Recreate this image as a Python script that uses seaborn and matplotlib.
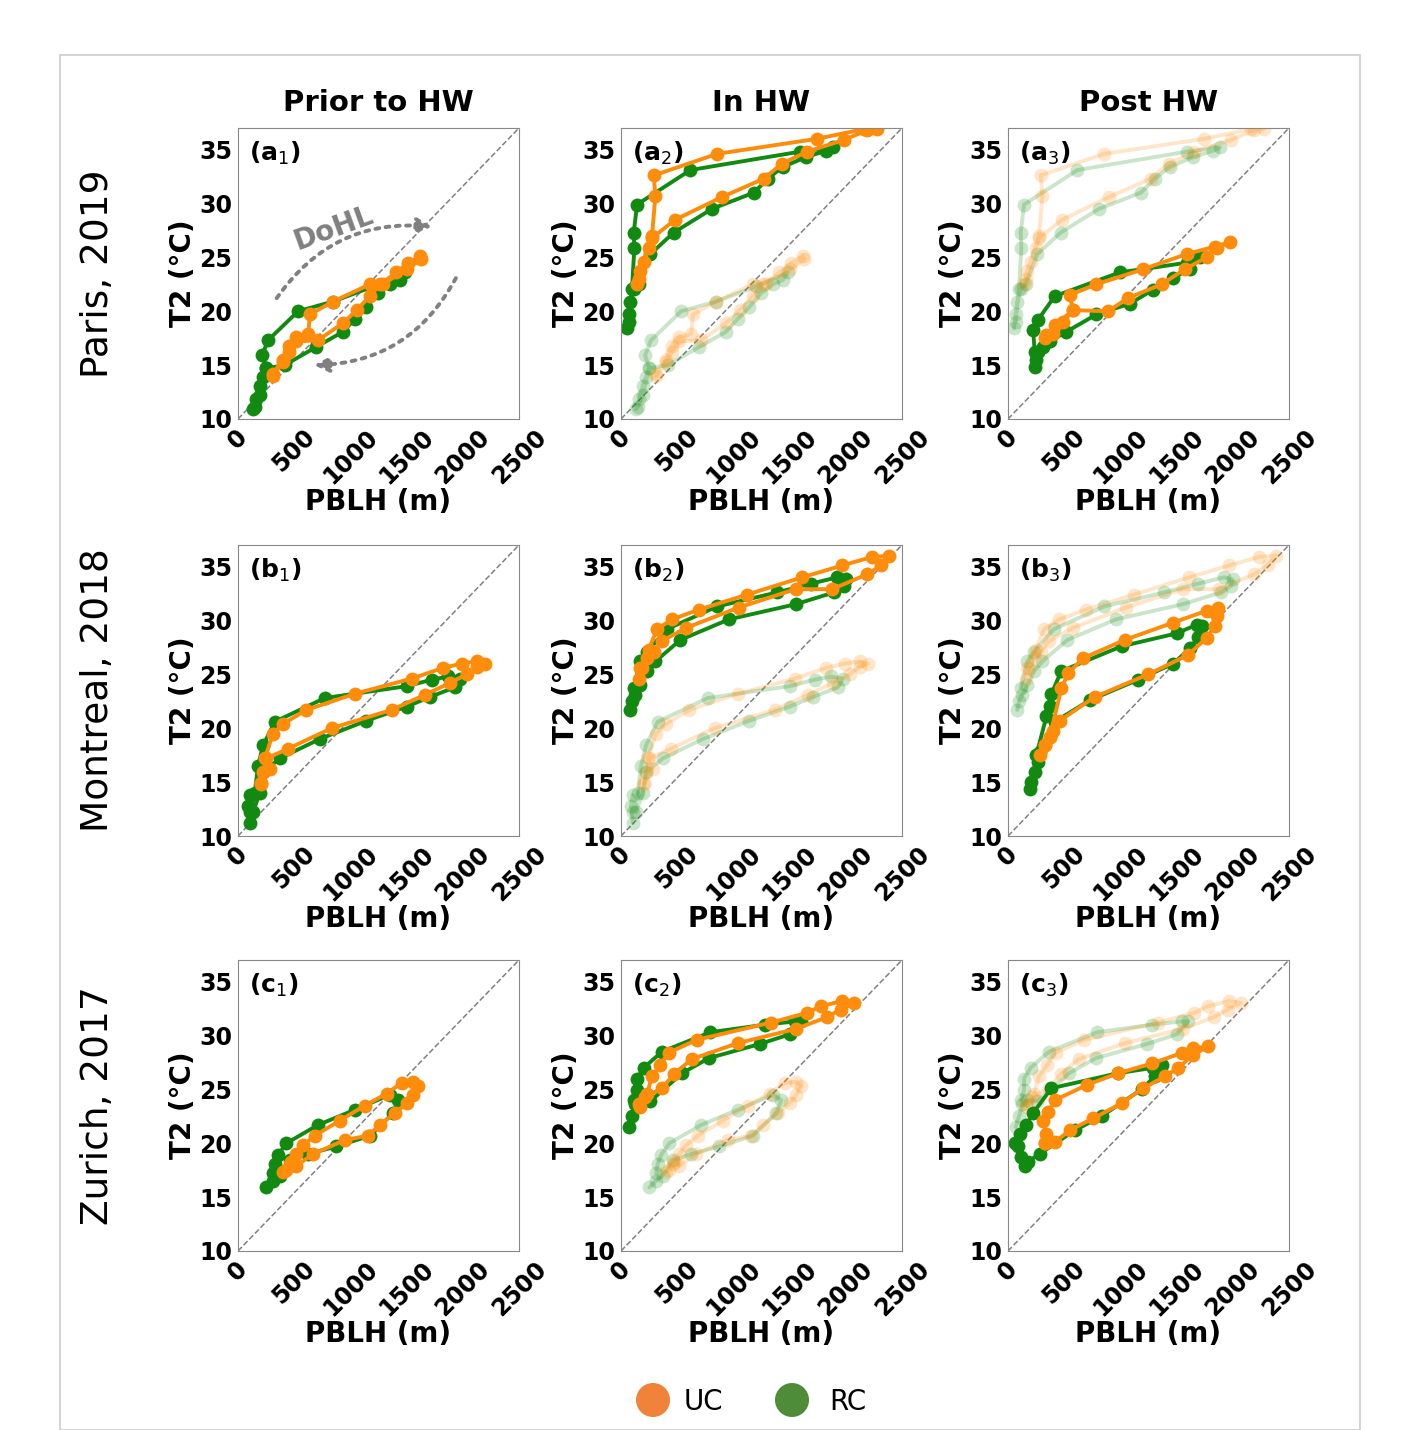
import matplotlib
matplotlib.use("Agg")
import matplotlib.pyplot as plt
import seaborn as sns
import pandas as pd
from matplotlib.patches import Rectangle

sns.set_style("white")
plt.rcParams['font.family'] = ['DejaVu Sans']
plt.rcParams['text.color'] = 'black'
plt.rcParams['axes.labelcolor'] = 'black'
plt.rcParams['xtick.color'] = 'black'
plt.rcParams['ytick.color'] = 'black'

# ---- data: (PBLH m, T2 °C) loops ----
a1_uc_x = [310,400,450,520,710,935,1055,1175,1265,1410,1515,1620,1630,1500,1290,1175,845,640,625,520,450,400,310]
a1_uc_y = [14.0,15.3,16.2,17.2,17.3,18.9,20.1,21.4,22.5,23.6,24.5,25.1,24.8,23.9,22.5,22.5,20.9,19.7,17.9,17.6,16.8,15.5,14.2]
a1_rc_x = [134,164,193,223,252,416,698,935,1040,1143,1247,1351,1440,1485,1203,846,535,267,214,252,193,149]
a1_rc_y = [10.9,11.9,13.1,13.9,14.7,15.0,16.7,18.1,19.3,20.4,21.7,22.5,22.9,23.6,22.3,20.9,20.0,17.3,15.9,14.7,12.2,11.1]

a2_uc_x = [143,172,202,247,276,484,900,1271,1432,1656,1983,2192,2281,2162,1746,855,291,306,276,158]
a2_uc_y = [22.5,23.7,24.6,25.9,26.8,28.5,30.6,32.3,33.7,34.8,35.9,36.8,36.9,36.9,36.0,34.6,32.6,30.7,27.0,23.0]
a2_rc_x = [53,68,83,113,158,261,469,810,1182,1307,1440,1648,1826,1886,1589,618,143,113,119,98,68]
a2_rc_y = [18.4,19.7,20.9,22.1,22.5,25.3,27.3,29.5,31.0,32.3,33.4,34.3,34.9,35.2,34.8,33.1,29.9,27.3,25.9,22.1,19.0]

a3_uc_x = [327,401,490,579,891,1064,1366,1574,1767,1856,1975,1841,1589,1203,787,549,579,416,342]
a3_uc_y = [17.5,17.9,19.0,20.1,20.0,21.2,22.5,23.9,25.0,25.9,26.4,26.0,25.3,23.9,22.5,21.5,20.1,18.7,17.8]
a3_rc_x = [238,252,267,312,371,520,787,1084,1292,1470,1619,1708,1589,995,416,267,223,238]
a3_rc_y = [14.8,15.5,16.2,16.7,17.2,18.1,19.7,20.7,22.0,23.1,23.9,25.0,24.5,23.6,21.4,19.2,18.3,16.2]

b1_uc_x = [208,223,252,446,832,1366,1663,1886,2034,2123,2197,2123,1990,1826,1544,1040,609,401,312,238,282,208]
b1_uc_y = [14.8,15.9,17.2,18.1,20.0,21.7,23.1,24.2,25.0,25.7,26.0,26.2,26.0,25.6,24.6,23.2,21.7,20.4,19.5,17.2,16.2,14.9]
b1_rc_x = [104,89,104,134,193,223,371,728,1143,1500,1708,1931,1975,1871,1723,1500,772,327,223,178,149,104]
b1_rc_y = [11.2,12.8,13.8,12.2,14.0,15.9,17.2,19.0,20.7,22.0,22.9,23.8,24.6,24.8,24.5,23.9,22.8,20.6,18.4,16.5,14.0,12.2]

b2_uc_x = [158,187,232,291,366,576,1048,1553,1879,2192,2311,2385,2236,1968,1612,1123,692,455,321,247,172]
b2_uc_y = [24.6,25.6,26.5,27.1,28.1,29.3,31.2,32.9,32.9,34.3,35.1,36.0,35.9,35.1,34.0,32.4,31.0,30.1,29.2,27.3,25.6]
b2_rc_x = [83,98,128,172,232,306,529,960,1553,1895,1983,1998,1924,1686,1389,856,410,232,172,113]
b2_rc_y = [21.7,22.5,23.1,24.0,25.3,26.2,28.2,30.1,31.5,32.6,33.2,33.8,34.0,33.4,32.6,31.3,29.2,27.1,26.2,23.7]

b3_uc_x = [282,327,371,401,460,772,1247,1604,1767,1841,1856,1871,1767,1470,1040,668,535,475,371,327]
b3_uc_y = [17.5,18.4,19.2,19.7,20.7,22.9,25.0,26.8,28.4,29.5,30.4,31.2,30.9,29.8,28.2,26.5,25.1,23.7,19.2,18.4]
b3_rc_x = [193,208,238,267,282,416,728,1159,1470,1619,1693,1723,1678,1500,1010,475,386,371,342,252]
b3_rc_y = [14.4,15.0,15.9,16.9,17.8,20.6,22.6,24.5,26.0,27.4,28.5,29.5,29.6,28.8,27.6,25.3,23.2,22.1,21.1,17.5]

c1_uc_x = [431,475,520,668,950,1158,1262,1396,1500,1559,1604,1559,1455,1322,1129,906,683,579,520,460,401]
c1_uc_y = [17.5,18.3,17.9,19.0,20.3,20.7,21.7,22.8,23.7,24.5,25.3,25.7,25.6,24.6,23.5,22.1,20.7,19.8,19.0,18.1,17.3]
c1_rc_x = [252,312,371,460,624,876,1173,1381,1426,1352,1040,713,431,357,327,312]
c1_rc_y = [15.9,16.5,17.0,18.4,19.0,19.7,20.7,22.8,24.0,24.5,23.1,21.7,20.0,18.9,18.1,17.2]

c2_uc_x = [158,217,366,469,628,1044,1553,1834,1953,2073,1968,1775,1656,1337,676,425,351,276,232,172]
c2_uc_y = [23.6,24.3,25.1,26.4,27.8,29.3,30.6,31.7,32.4,33.0,33.2,32.7,32.1,31.2,29.6,28.4,27.3,26.2,24.6,23.4]
c2_rc_x = [68,98,128,172,261,544,783,1233,1500,1604,1545,1283,795,366,202,143,143,113]
c2_rc_y = [21.5,22.5,23.6,24.0,23.9,26.5,27.9,29.2,30.1,31.3,31.3,31.0,30.3,28.5,27.0,26.0,24.9,24.0]

c3_uc_x = [327,342,312,357,416,701,980,1282,1550,1648,1782,1648,1515,1396,1203,1010,757,549,416,327]
c3_uc_y = [20.0,20.9,22.1,22.9,24.0,25.4,26.5,27.4,28.4,28.8,29.0,28.2,27.0,26.2,25.1,23.7,22.3,21.2,20.1,20.0]
c3_rc_x = [149,119,89,59,104,164,223,386,980,1292,1366,1307,1188,832,594,282,178]
c3_rc_y = [17.9,18.7,19.7,20.0,20.9,21.7,22.8,25.1,26.5,27.0,27.3,26.2,25.0,22.5,21.2,19.0,18.3]

col_titles = ["Prior to HW", "In HW", "Post HW"]
row_titles = ["Paris, 2019", "Montreal, 2018", "Zurich, 2017"]
row_keys = ["a", "b", "c"]
loops = {
    "a": [(a1_uc_x, a1_uc_y, a1_rc_x, a1_rc_y), (a2_uc_x, a2_uc_y, a2_rc_x, a2_rc_y), (a3_uc_x, a3_uc_y, a3_rc_x, a3_rc_y)],
    "b": [(b1_uc_x, b1_uc_y, b1_rc_x, b1_rc_y), (b2_uc_x, b2_uc_y, b2_rc_x, b2_rc_y), (b3_uc_x, b3_uc_y, b3_rc_x, b3_rc_y)],
    "c": [(c1_uc_x, c1_uc_y, c1_rc_x, c1_rc_y), (c2_uc_x, c2_uc_y, c2_rc_x, c2_rc_y), (c3_uc_x, c3_uc_y, c3_rc_x, c3_rc_y)],
}
xticks = [0, 500, 1000, 1500, 2000, 2500]
yticks = [10, 15, 20, 25, 30, 35]
UC_C = "#ff8c0a"
RC_C = "#128a12"

W, H = 1410, 1430
fig = plt.figure(figsize=(W/100, H/100), dpi=100)
fig.patches.append(Rectangle((60/W, 0), 1300/W, 1 - 55/H, transform=fig.transFigure,
                             fill=False, ec="#cccccc", lw=1.2))

lefts = [238, 621, 1008]
tops = [128, 545, 960]
aw, ah = 281, 291

def draw(ax, ux, uy, rx, ry, alpha):
    kw = dict(sort=False, estimator=None, marker='o', markersize=10, lw=2.8,
              markeredgewidth=0, alpha=alpha, ax=ax, legend=False)
    sns.lineplot(x=rx, y=ry, color=RC_C, **kw)
    sns.lineplot(x=ux, y=uy, color=UC_C, **kw)

for r, key in enumerate(row_keys):
    for c in range(3):
        ax = fig.add_axes([lefts[c]/W, 1 - (tops[r]+ah)/H, aw/W, ah/H])
        ax.plot([0, 1], [0, 1], transform=ax.transAxes, ls='--', color='gray', lw=1.1)
        if c > 0:
            draw(ax, *loops[key][c-1], alpha=0.22)
        draw(ax, *loops[key][c], alpha=1.0)
        ax.set_xlim(0, 2500)
        ax.set_ylim(10, 37)
        ax.set_xticks(xticks)
        ax.set_yticks(yticks)
        ax.set_xticklabels([str(t) for t in xticks], rotation=45, fontsize=17, fontweight='bold')
        ax.set_yticklabels([str(t) for t in yticks], fontsize=17, fontweight='bold')
        ax.tick_params(axis='both', pad=1, length=3)
        ax.set_xlabel("PBLH (m)", fontsize=20, fontweight='bold', labelpad=0)
        ax.set_ylabel("T2 (°C)", fontsize=20, fontweight='bold', labelpad=2)
        for s in ax.spines.values():
            s.set_color('#888888')
        ax.text(0.04, 0.96, f"({key}$_{{{c+1}}}$)", transform=ax.transAxes, fontsize=18,
                fontweight='bold', va='top', ha='left')
        if r == 0:
            ax.set_title(col_titles[c], fontsize=21, fontweight='bold', pad=12)
        if c == 0:
            ax.text(-0.5, 0.5, row_titles[r], transform=ax.transAxes, rotation=90,
                    fontsize=27, va='center', ha='center')
        if r == 0 and c == 0:
            ax.annotate("", xy=(1750, 27.8), xytext=(330, 21.0),
                        arrowprops=dict(arrowstyle='-|>', color='gray', lw=2.8, ls=':',
                                        connectionstyle='arc3,rad=-0.3', mutation_scale=22))
            ax.annotate("", xy=(650, 15.0), xytext=(1950, 23.3),
                        arrowprops=dict(arrowstyle='-|>', color='gray', lw=2.8, ls=':',
                                        connectionstyle='arc3,rad=-0.3', mutation_scale=22))
            ax.text(850, 27.7, "DoHL", rotation=20, color='gray', fontsize=20,
                    fontweight='bold', ha='center', va='center')

# legend
lx = fig.add_axes([0, 0, 1, 1], facecolor='none')
lx.set_axis_off()
lx.set_xlim(0, W); lx.set_ylim(H, 0)
sns.scatterplot(x=[653, 792], y=[1400, 1400], hue=["UC", "RC"], palette=["#f0823a", "#4f8c3a"],
                s=600, legend=False, ax=lx, edgecolor='none')
lx.text(684, 1402, "UC", fontsize=20, va='center')
lx.text(829, 1402, "RC", fontsize=20, va='center')

fig.savefig("out.png", dpi=100)
